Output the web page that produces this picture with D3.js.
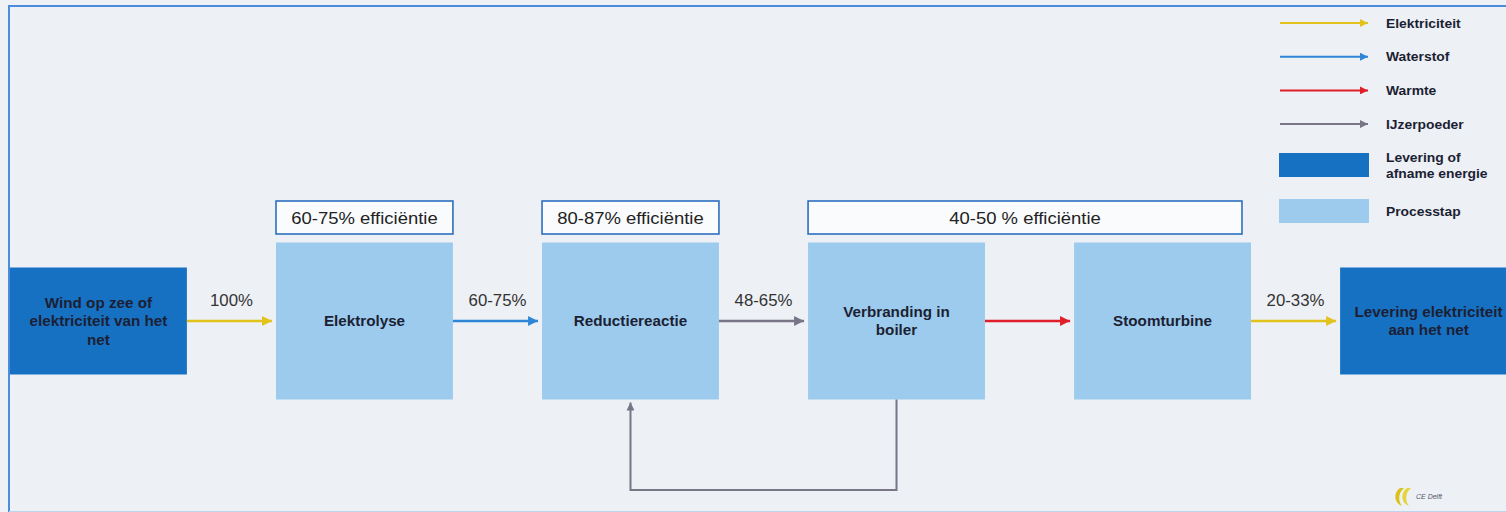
<!DOCTYPE html>
<html>
<head>
<meta charset="utf-8">
<script src="https://cdn.jsdelivr.net/npm/d3@7"></script>
<style>
  html, body { margin: 0; padding: 0; background: #eef1f6; }
  svg { display: block; font-family: "Liberation Sans", Arial, sans-serif; }
</style>
</head>
<body>
<svg id="chart"></svg>
<script>
// Process chain: ids, labels (lines), kind
const nodeIds = ["bron", "elektrolyse", "reductie", "verbranding", "turbine", "levering"];
const nodeLabels = [
  ["Wind op zee of", "elektriciteit van het", "net"],
  ["Elektrolyse"],
  ["Reductiereactie"],
  ["Verbranding in", "boiler"],
  ["Stoomturbine"],
  ["Levering elektriciteit", "aan het net"]
];
const nodeKinds = ["energie", "proces", "proces", "proces", "proces", "energie"];

// Flows between neighbouring nodes
const flowFrom = ["bron", "elektrolyse", "reductie", "verbranding", "turbine"];
const flowTo = ["elektrolyse", "reductie", "verbranding", "turbine", "levering"];
const flowTypes = ["Elektriciteit", "Waterstof", "IJzerpoeder", "Warmte", "Elektriciteit"];
const flowLabels = ["100%", "60-75%", "48-65%", "", "20-33%"];

// Efficiency bands above the process steps
const effFrom = ["elektrolyse", "reductie", "verbranding"];
const effTo = ["elektrolyse", "reductie", "turbine"];
const effLabels = ["60-75% efficiëntie", "80-87% efficiëntie", "40-50 % efficiëntie"];

// Legend
const legendArrows = ["Elektriciteit", "Waterstof", "Warmte", "IJzerpoeder"];
const legendBoxes = [["Levering of", "afname energie"], ["Processtap"]];

const width = 1506, height = 512;
const colors = {
  Elektriciteit: "#e3c21c",
  Waterstof: "#2f86d6",
  Warmte: "#e01f2b",
  IJzerpoeder: "#777586",
  energie: "#1771c3",
  proces: "#9ccbed"
};
const textColor = "#1c1f33";

const svg = d3.select("#chart").attr("width", width).attr("height", height);

// arrow heads per flow type
const defs = svg.append("defs");
Object.keys(colors).slice(0, 4).forEach(k => {
  defs.append("marker")
    .attr("id", "head-" + k)
    .attr("viewBox", "0 0 10 10")
    .attr("refX", 10).attr("refY", 5)
    .attr("markerWidth", 4).attr("markerHeight", 4)
    .attr("markerUnits", "strokeWidth")
    .attr("orient", "auto")
    .append("path")
    .attr("d", "M0,0 L10,5 L0,10 Z")
    .attr("fill", colors[k]);
});

// frame
svg.append("rect")
  .attr("x", 9).attr("y", 6)
  .attr("width", 1600).attr("height", 510)
  .attr("fill", "#edf0f5");
svg.append("path")
  .attr("d", "M9,520 V6 H1506")
  .attr("fill", "none")
  .attr("stroke", "#4a8edb").attr("stroke-width", 2);
svg.append("line")
  .attr("x1", 9).attr("x2", 1506).attr("y1", 511.5).attr("y2", 511.5)
  .attr("stroke", "#bcd6f0").attr("stroke-width", 1);

// horizontal layout of the nodes
const x = d3.scaleBand()
  .domain(nodeIds)
  .range([10, 10 + 5 * 266 + 177])
  .paddingInner(0.335)
  .paddingOuter(0);
const bw = x.bandwidth();
const midY = 321;
const boxH = { proces: 157, energie: 107 };

const nodes = nodeIds.map((id, i) => ({ id, lines: nodeLabels[i], kind: nodeKinds[i] }));

// wide text helper: stretch horizontally around its anchor x
function wide(sel, cx, cy, k) {
  return sel.attr("transform", `translate(${cx},${cy}) scale(${k},1)`);
}

// efficiency boxes
effLabels.forEach((label, i) => {
  const x0 = x(effFrom[i]), x1 = x(effTo[i]) + bw - (effFrom[i] === effTo[i] ? 0 : 9);
  const g = svg.append("g");
  g.append("rect")
    .attr("x", x0).attr("y", 201)
    .attr("width", x1 - x0).attr("height", 33)
    .attr("fill", "#fafbfd")
    .attr("stroke", "#2c6fc0").attr("stroke-width", 1.6);
  g.append("text")
    .call(wide, (x0 + x1) / 2, 218, 1.12)
    .attr("dy", "0.35em")
    .attr("text-anchor", "middle")
    .style("font-size", "16.5px")
    .style("fill", "#222")
    .text(label);
});

// node boxes
const ng = svg.selectAll("g.node")
  .data(nodes)
  .join("g")
  .attr("class", "node");
ng.append("rect")
  .attr("x", d => x(d.id))
  .attr("y", d => midY - boxH[d.kind] / 2)
  .attr("width", bw)
  .attr("height", d => boxH[d.kind])
  .attr("fill", d => colors[d.kind]);
ng.append("text")
  .each(function(d) { wide(d3.select(this), x(d.id) + bw / 2, midY, 1.05); })
  .attr("text-anchor", "middle")
  .style("font-size", "14.5px")
  .style("font-weight", "bold")
  .style("fill", textColor)
  .selectAll("tspan")
  .data(d => d.lines.map((l, i) => ({ l, i, n: d.lines.length })))
  .join("tspan")
  .attr("x", 0)
  .attr("y", d => (d.i - (d.n - 1) / 2) * 18.5)
  .attr("dy", "0.35em")
  .text(d => d.l);

// flow arrows
flowFrom.forEach((f, i) => {
  const x0 = x(f) + bw, x1 = x(flowTo[i]) - 4;
  svg.append("line")
    .attr("x1", x0).attr("x2", x1)
    .attr("y1", midY).attr("y2", midY)
    .attr("stroke", colors[flowTypes[i]])
    .attr("stroke-width", 2.5)
    .attr("marker-end", `url(#head-${flowTypes[i]})`);
  if (flowLabels[i]) {
    svg.append("text")
      .call(wide, (x0 + x(flowTo[i])) / 2, 300, 1.05)
      .attr("dy", "0.35em")
      .attr("text-anchor", "middle")
      .style("font-size", "16px")
      .style("fill", "#333")
      .text(flowLabels[i]);
  }
});

// iron powder returned from boiler to reduction
const backFrom = x("verbranding") + bw / 2, backTo = x("reductie") + bw / 2;
svg.append("path")
  .attr("d", `M${backFrom},${midY + boxH.proces / 2} V490 H${backTo} V${midY + boxH.proces / 2 + 3}`)
  .attr("fill", "none")
  .attr("stroke", colors.IJzerpoeder)
  .attr("stroke-width", 2)
  .attr("marker-end", "url(#head-IJzerpoeder)");

// legend
const leg = svg.append("g");
legendArrows.forEach((k, i) => {
  const y = 23 + i * 33.7;
  leg.append("line")
    .attr("x1", 1280).attr("x2", 1368)
    .attr("y1", y).attr("y2", y)
    .attr("stroke", colors[k]).attr("stroke-width", 2)
    .attr("marker-end", `url(#head-${k})`);
  leg.append("text")
    .call(wide, 1386, y, 1.05)
    .attr("dy", "0.35em")
    .style("font-size", "13.2px").style("font-weight", "bold")
    .style("fill", textColor)
    .text(k);
});
["energie", "proces"].forEach((k, i) => {
  const y = 153 + i * 46;
  leg.append("rect")
    .attr("x", 1279).attr("y", y)
    .attr("width", 90).attr("height", 24)
    .attr("fill", colors[k]);
  const lines = legendBoxes[i];
  leg.append("text")
    .call(wide, 1386, y + 12, 1.05)
    .style("font-size", "13.2px").style("font-weight", "bold")
    .style("fill", textColor)
    .selectAll("tspan")
    .data(lines)
    .join("tspan")
    .attr("x", 0)
    .attr("y", (d, j) => (j - (lines.length - 1) / 2) * 16)
    .attr("dy", "0.35em")
    .text(d => d);
});

// small logo
const logo = svg.append("g").attr("transform", "translate(1398,497)");
logo.append("path")
  .attr("d", "M2,-9 C-5,-4 -4,6 4,9 C0,4 0,-4 6,-9 Z")
  .attr("fill", "#d8c21a");
logo.append("path")
  .attr("d", "M9,-9 C2,-4 3,6 11,9 C7,4 7,-4 13,-9 Z")
  .attr("fill", "#e6d43a");
logo.append("text")
  .attr("x", 18).attr("y", 0).attr("dy", "0.35em")
  .style("font-size", "7px").style("font-style", "italic")
  .style("fill", "#556")
  .text("CE Delft");
</script>
</body>
</html>
